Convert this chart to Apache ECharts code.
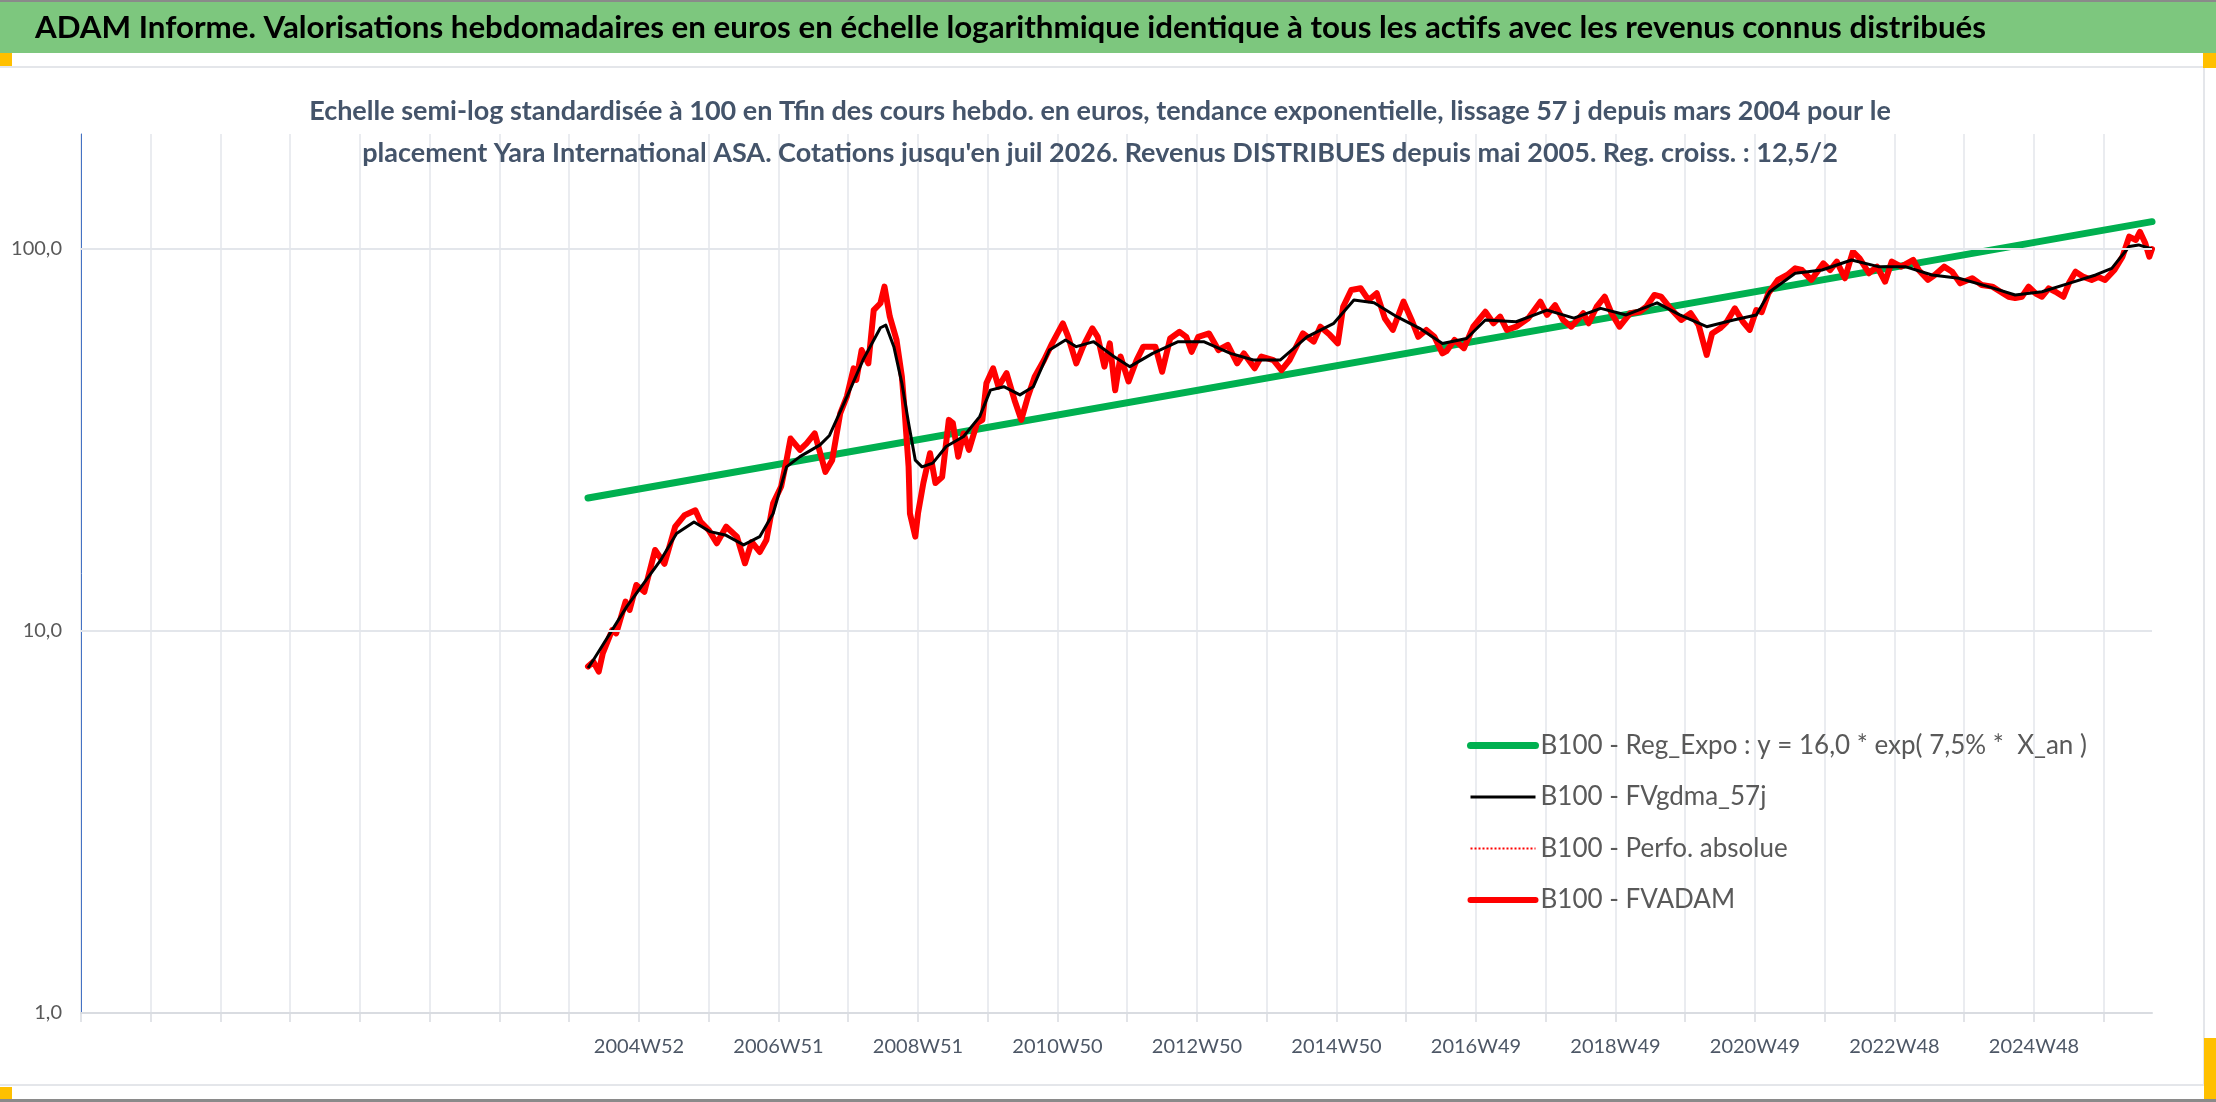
<!DOCTYPE html>
<html lang="fr">
<head>
<meta charset="utf-8">
<title>ADAM Informe - Yara International ASA</title>
<script src="https://cdn.jsdelivr.net/npm/echarts@6/dist/echarts.min.js"></script>
<style>
    html, body, #main { width: 100%; height: 100%; margin: 0; padding: 0; background: #fff; }
</style>
</head>
<body>
<div id="main"></div>
<script>
// semaine 416 = 2004W52 (lundi 20/12/2004), 1545 semaines au total
var nbWeeks = 1545;
var week0 = 416;
var tickLabels = ['2004W52', '2006W51', '2008W51', '2010W50', '2012W50', '2014W50',
    '2016W49', '2018W49', '2020W49', '2022W48', '2024W48'];

// B100 - FVADAM (indice de semaine, valeur)
var fvWeeks = [378, 382, 386, 389, 396, 399, 406, 409, 414, 420, 428, 435, 443, 450, 458, 462, 468, 474,
    481, 489, 495, 500, 506, 511, 516, 522, 526, 529, 536, 541, 547, 555, 560, 566, 571, 576, 578, 582,
    587, 591, 596, 599, 603, 608, 612, 614, 617, 618, 622, 624, 628, 633, 637, 642, 647, 650, 654, 658,
    662, 668, 672, 675, 680, 684, 690, 696, 701, 706, 711, 718, 724, 732, 736, 742, 747, 754, 758, 763,
    767, 771, 775, 781, 787, 792, 801, 806, 812, 819, 824, 828, 833, 841, 848, 855, 862, 867, 875, 880,
    889, 895, 901, 911, 919, 924, 931, 937, 941, 947, 954, 960, 966, 972, 978, 986, 992, 997, 1003, 1009,
    1015, 1018, 1024, 1031, 1038, 1047, 1053, 1058, 1063, 1070, 1079, 1088, 1093, 1099, 1105, 1111, 1120,
    1124, 1130, 1136, 1141, 1147, 1155, 1162, 1167, 1173, 1178, 1185, 1193, 1200, 1206, 1212, 1216, 1222,
    1227, 1233, 1239, 1244, 1249, 1253, 1258, 1265, 1272, 1278, 1283, 1290, 1299, 1304, 1309, 1315, 1321,
    1326, 1333, 1339, 1345, 1350, 1357, 1366, 1370, 1377, 1382, 1389, 1395, 1401, 1410, 1417, 1425, 1431,
    1437, 1442, 1447, 1452, 1457, 1462, 1467, 1472, 1478, 1482, 1487, 1493, 1499, 1504, 1509, 1516, 1522,
    1527, 1532, 1535, 1539, 1542, 1544];
var fvValues = [8.07, 8.31, 7.83, 8.74, 10.06, 9.86, 11.94, 11.35, 13.2, 12.67, 16.3, 15.0, 18.75, 20.1, 20.7, 19.3, 18.37, 16.97,
    18.75, 17.66, 15.04, 17.1, 16.1, 17.3, 21.6, 23.9, 28.0, 31.9, 29.8, 31.0, 32.9, 26.1, 28.0, 37.1, 41.1, 48.7, 45.4, 54.4,
    50.2, 69.2, 72.1, 79.7, 66.5, 57.8, 46.3, 37.9, 26.9, 20.3, 17.66, 20.3, 24.4, 29.2, 24.4, 25.3, 35.7, 35.0, 28.6, 32.9,
    29.8, 35.0, 35.7, 44.5, 48.7, 43.6, 47.3, 40.2, 35.7, 41.1, 46.3, 51.2, 56.6, 63.9, 58.9, 50.2, 55.5, 62.0, 58.9, 49.2,
    56.6, 42.7, 52.3, 45.0, 51.2, 55.5, 55.5, 47.7, 58.3, 60.7, 58.9, 53.8, 58.9, 60.1, 54.4, 56.1, 50.2, 53.3, 48.7, 52.3,
    51.2, 48.2, 51.2, 60.1, 57.2, 62.6, 59.6, 56.6, 70.6, 78.1, 78.9, 73.5, 76.6, 65.9, 61.4, 72.8, 65.2, 58.9, 61.4, 58.9,
    53.3, 54.0, 57.8, 55.0, 62.6, 68.5, 63.9, 66.5, 61.4, 62.6, 65.9, 72.8, 67.2, 71.3, 65.2, 62.6, 67.9,
    63.9, 70.6, 75.0, 67.9, 62.6, 67.9, 68.5, 70.6, 75.8, 75.0, 69.9, 65.2, 67.9, 63.2, 52.8, 60.1, 62.0,
    64.5, 69.9, 64.5, 61.4, 69.2, 68.3, 76.6, 83.0, 85.5, 89.0, 88.1, 83.0, 91.7, 88.1, 92.7, 83.8, 98.4,
    94.5, 86.4, 89.9, 82.1, 92.7, 89.9, 93.6, 88.1, 83.0, 85.5, 89.9, 87.2, 81.3, 83.8, 80.5, 79.7, 77.3,
    75.0, 74.4, 75.0, 79.7, 76.6, 75.0, 78.9, 77.3, 75.0, 81.3, 87.2, 84.5, 83.0, 84.5, 83.0, 88.1, 95.5,
    107.7, 105.6, 110.9, 103.5, 95.5, 100.0];

// B100 - FVgdma_57j
var gdmaWeeks = [378, 382, 407, 432, 444, 457, 469, 481, 494, 506, 516, 526, 536, 551, 558, 571, 583, 596,
    600, 606, 612, 617, 622, 627, 635, 645, 658, 670, 678, 688, 700, 710, 722, 734, 742, 755, 770, 782,
    799, 818, 837, 857, 874, 894, 914, 934, 949, 964, 981, 998, 1015, 1033, 1047, 1070, 1093, 1113, 1133,
    1152, 1175, 1192, 1212, 1232, 1249, 1259, 1278, 1298, 1320, 1340, 1360, 1380, 1400, 1422, 1442, 1462,
    1482, 1502, 1514, 1527, 1534, 1544];
var gdmaValues = [8.0, 8.4, 11.6, 15.3, 18.0, 19.3, 18.2, 17.8, 16.8, 17.66, 20.3, 26.9, 28.6, 30.7, 32.5, 41.0, 51.2, 62.2,
    63.2, 55.5, 44.5, 35.0, 28.0, 26.9, 27.5, 30.4, 32.3, 36.4, 42.7, 43.6, 41.5, 43.6, 54.4, 57.8, 55.5, 57.2, 52.3, 49.2,
    53.3, 57.2, 57.2, 53.3, 51.2, 51.2, 58.9, 63.9, 73.5, 72.3, 66.5, 62.0, 56.6, 58.3, 65.2, 64.5, 69.2, 65.9, 69.9,
    67.2, 72.3, 67.2, 62.6, 65.2, 67.2, 77.3, 86.4, 88.1, 93.6, 89.9, 89.9, 85.5, 83.8, 79.7, 75.8, 77.3,
    81.3, 85.5, 89.0, 101.5, 102.5, 100.0];

// B100 - Reg_Expo (debut et fin de la droite de tendance)
var regWeeks = [378, 1544];
var regValues = [22.3, 117.9];

function isoWeekLabel(i) {
    var base = Date.UTC(2004, 11, 20) + (i - week0) * 7 * 86400000;
    var thu = new Date(base + 3 * 86400000);
    var y = thu.getUTCFullYear();
    var doy = Math.floor((thu.getTime() - Date.UTC(y, 0, 1)) / 86400000);
    var w = Math.floor(doy / 7) + 1;
    return y + 'W' + (w < 10 ? '0' + w : w);
}
var categories = [];
for (var i = 0; i < nbWeeks; i++) categories.push(isoWeekLabel(i));

function pairs(xs, ys) {
    return xs.map(function (x, k) { return [x, ys[k]]; });
}

var FONT = 'Lato, "Open Sans", sans-serif';
var title = 'ADAM Informe. Valorisations hebdomadaires en euros en échelle logarithmique identique à tous les actifs avec les revenus connus distribués';
var subtitle = "Echelle semi-log standardisée à 100 en Tfin des cours hebdo. en euros, tendance exponentielle, lissage 57 j depuis mars 2004 pour le\n" +
    "placement Yara International ASA. Cotations jusqu'en juil 2026. Revenus DISTRIBUES depuis mai 2005. Reg. croiss. : 12,5/2";

var myChart = echarts.init(document.getElementById('main'));
myChart.setOption({
    animation: false,
    backgroundColor: '#ffffff',
    graphic: [
        { type: 'rect', shape: { x: 0, y: 0, width: 2216, height: 53 }, style: { fill: '#7dc77e' }, z: 0 },
        { type: 'rect', shape: { x: 0, y: 0, width: 2216, height: 2 }, style: { fill: '#8a8a8a' }, z: 1 },
        { type: 'rect', shape: { x: 0, y: 66, width: 2216, height: 2 }, style: { fill: '#e4e6ea' }, z: 1 },
        { type: 'rect', shape: { x: 0, y: 1084, width: 2205, height: 2 }, style: { fill: '#e4e6ea' }, z: 1 },
        { type: 'rect', shape: { x: 2203, y: 66, width: 2, height: 1020 }, style: { fill: '#e4e6ea' }, z: 1 },
        { type: 'rect', shape: { x: 0, y: 1099, width: 2216, height: 3 }, style: { fill: '#8a8a8a' }, z: 1 },
        { type: 'rect', shape: { x: 0, y: 53, width: 12, height: 13 }, style: { fill: '#ffc000' }, z: 2 },
        { type: 'rect', shape: { x: 2203, y: 53, width: 13, height: 15 }, style: { fill: '#ffc000' }, z: 2 },
        { type: 'rect', shape: { x: 0, y: 1087, width: 12, height: 12 }, style: { fill: '#ffc000' }, z: 2 },
        { type: 'rect', shape: { x: 2204, y: 1038, width: 12, height: 61 }, style: { fill: '#ffc000' }, z: 2 },
        {
            type: 'text', z: 3,
            style: { x: 35, y: 28, text: title, fill: '#000000', font: 'bold 31.3px ' + FONT, textVerticalAlign: 'middle' }
        },
        {
            type: 'text', z: 3,
            style: {
                x: 1100, y: 90, text: subtitle, fill: '#44546a', font: 'bold 27px ' + FONT,
                textAlign: 'center', textVerticalAlign: 'top', lineHeight: 42
            }
        }
    ],
    grid: { left: 81, right: 64, top: 134, bottom: 89, containLabel: false },
    legend: {
        orient: 'vertical',
        left: 1467,
        top: 730,
        padding: 0,
        itemWidth: 65,
        itemHeight: 14,
        itemGap: 20.5,
        itemStyle: { opacity: 0 },
        lineStyle: { width: 'inherit' },
        textStyle: { fontFamily: FONT, fontSize: 26, color: '#595959', lineHeight: 31 },
        data: ['B100 - Reg_Expo : y = 16,0 * exp( 7,5% *  X_an )', 'B100 - FVgdma_57j',
            'B100 - Perfo. absolue', 'B100 - FVADAM']
    },
    xAxis: {
        type: 'category',
        data: categories,
        boundaryGap: false,
        axisLine: { lineStyle: { color: '#d9dce1', width: 2 } },
        axisTick: { interval: 51, length: 9, lineStyle: { color: '#d9dce1', width: 1.5 } },
        splitLine: { show: true, interval: 51, lineStyle: { color: '#e3e6eb', width: 1.5 } },
        axisLabel: {
            interval: function (idx, value) { return tickLabels.indexOf(value) >= 0; },
            margin: 24,
            fontFamily: FONT, fontSize: 20, color: '#4d5766'
        }
    },
    yAxis: {
        type: 'log',
        logBase: 10,
        min: 1,
        max: 200,
        axisLine: { show: true, lineStyle: { color: '#4472c4', width: 1 } },
        axisTick: { show: false },
        splitLine: { show: false },
        axisLabel: {
            showMaxLabel: false,
            margin: 19,
            fontFamily: FONT, fontSize: 20, color: '#595959',
            formatter: function (v) { return v.toFixed(1).replace('.', ','); }
        }
    },
    series: [
        {
            name: 'grille', type: 'line', data: [], z: 0, silent: true,
            markLine: {
                silent: true, symbol: 'none', label: { show: false },
                lineStyle: { color: '#e3e6eb', width: 2, type: 'solid' },
                data: [{ yAxis: 10 }, { yAxis: 100 }]
            }
        },
        {
            name: 'B100 - Reg_Expo : y = 16,0 * exp( 7,5% *  X_an )',
            type: 'line', z: 1, symbol: 'none', showSymbol: false,
            lineStyle: { color: '#00b050', width: 7, cap: 'round' },
            itemStyle: { color: '#00b050' },
            data: pairs(regWeeks, regValues)
        },
        {
            name: 'B100 - Perfo. absolue',
            type: 'line', z: 2, symbol: 'none', showSymbol: false,
            lineStyle: { color: '#ff0000', width: 2, type: 'dotted' },
            itemStyle: { color: '#ff0000' },
            data: pairs(fvWeeks, fvValues)
        },
        {
            name: 'B100 - FVADAM',
            type: 'line', z: 3, symbol: 'none', showSymbol: false,
            lineStyle: { color: '#ff0000', width: 6, cap: 'round', join: 'round' },
            itemStyle: { color: '#ff0000' },
            data: pairs(fvWeeks, fvValues)
        },
        {
            name: 'B100 - FVgdma_57j',
            type: 'line', z: 4, symbol: 'none', showSymbol: false,
            lineStyle: { color: '#000000', width: 3, join: 'round' },
            itemStyle: { color: '#000000' },
            data: pairs(gdmaWeeks, gdmaValues)
        }
    ]
});
</script>
</body>
</html>
